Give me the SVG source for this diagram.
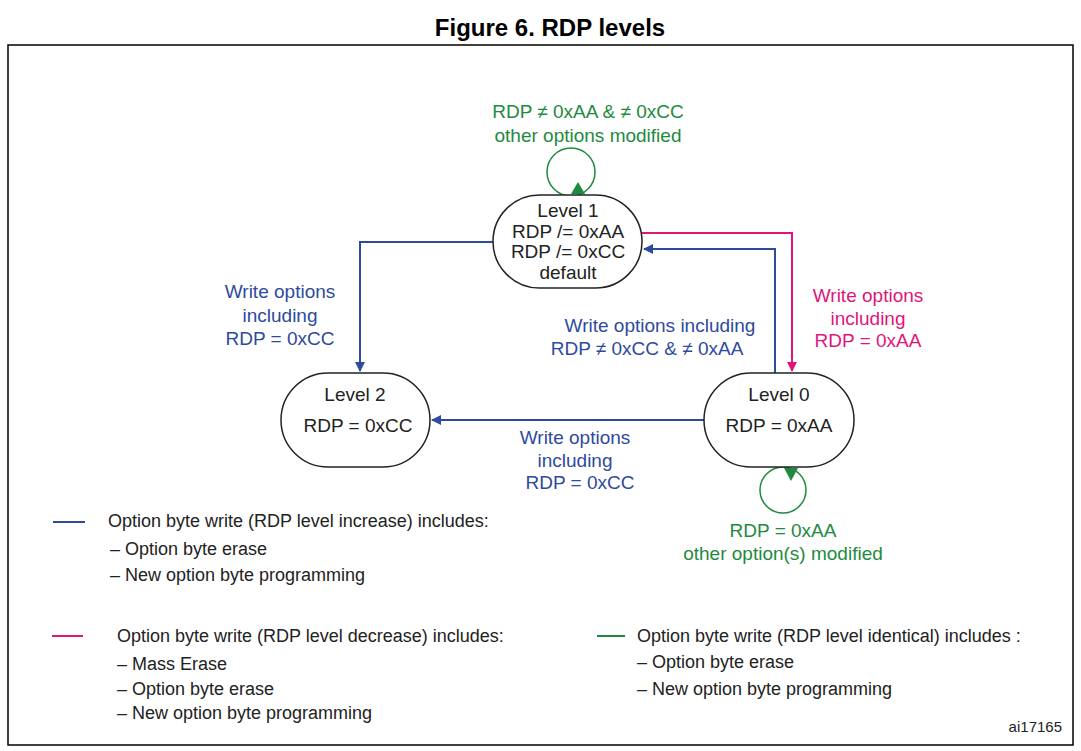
<svg xmlns="http://www.w3.org/2000/svg" width="1081" height="751" viewBox="0 0 1081 751">
<style>
text{font-family:"Liberation Sans",Arial,sans-serif;font-size:19px;}
.n{fill:#fff;stroke:#222;stroke-width:1.5}
.nt{fill:#222;text-anchor:middle}
.b{fill:#2e4a9e}.p{fill:#e0157a}.g{fill:#1e8a3e}
.c{text-anchor:middle}
.lb{stroke:#2e4a9e;stroke-width:2;fill:none}
.lp{stroke:#e0157a;stroke-width:2;fill:none}
.lg{stroke:#1e8a3e;stroke-width:1.5;fill:none}
.lt{fill:#222;font-size:18px}
</style>
<defs>
<marker id="ab" markerWidth="10" markerHeight="10" refX="9" refY="5" orient="auto" markerUnits="userSpaceOnUse"><path d="M0,0L10,5L0,10z" fill="#2e4a9e"/></marker>
<marker id="ap" markerWidth="10" markerHeight="10" refX="9" refY="5" orient="auto" markerUnits="userSpaceOnUse"><path d="M0,0L10,5L0,10z" fill="#e0157a"/></marker>
</defs>
<text x="550" y="36" text-anchor="middle" style="font-weight:bold;font-size:24px" fill="#000">Figure 6. RDP levels</text>
<rect x="8" y="45" width="1065" height="700" fill="none" stroke="#000" stroke-width="1.5"/>
<g id="connectors">
<path class="lb" d="M493,242H360V371" marker-end="url(#ab)"/>
<path class="lp" d="M642,233H792V371" marker-end="url(#ap)"/>
<path class="lb" d="M775,373V249H644" marker-end="url(#ab)"/>
<path class="lb" d="M704,420H432" marker-end="url(#ab)"/>
<circle class="lg" cx="571" cy="172" r="24"/>
<path d="M571,194L578,182L585,194z" fill="#1e8a3e"/>
<circle class="lg" cx="783" cy="490" r="23"/>
<path d="M784,468L798,468L791,481z" fill="#1e8a3e"/>
</g>
<g id="level1"><rect class="n" x="493" y="195" width="149" height="93" rx="46.5"/>
<text class="nt" x="568" y="217">Level 1</text><text class="nt" x="568" y="238">RDP /= 0xAA</text><text class="nt" x="568" y="258">RDP /= 0xCC</text><text class="nt" x="568" y="279">default</text></g>
<g id="level2"><rect class="n" x="281" y="373" width="149" height="94" rx="47"/>
<text class="nt" x="355" y="401">Level 2</text><text class="nt" x="358" y="432">RDP = 0xCC</text></g>
<g id="level0"><rect class="n" x="704" y="373" width="150" height="94" rx="47"/>
<text class="nt" x="779" y="401">Level 0</text><text class="nt" x="779" y="432">RDP = 0xAA</text></g>
<g id="labels">
<text class="g c" x="588" y="118">RDP ≠ 0xAA &amp; ≠ 0xCC</text>
<text class="g c" x="588" y="142">other options modified</text>
<text class="b c" x="280" y="298">Write options</text>
<text class="b c" x="280" y="322">including</text>
<text class="b c" x="280" y="345">RDP = 0xCC</text>
<text class="b c" x="660" y="332">Write options including</text>
<text class="b c" x="647" y="355">RDP ≠ 0xCC &amp; ≠ 0xAA</text>
<text class="p c" x="868" y="302">Write options</text>
<text class="p c" x="868" y="325">including</text>
<text class="p c" x="868" y="347">RDP = 0xAA</text>
<text class="b c" x="575" y="444">Write options</text>
<text class="b c" x="575" y="467">including</text>
<text class="b c" x="580" y="489">RDP = 0xCC</text>
<text class="g c" x="783" y="537">RDP = 0xAA</text>
<text class="g c" x="783" y="560">other option(s) modified</text>
</g>
<g id="legend">
<path class="lb" d="M53,522H85"/>
<text class="lt" x="108" y="527">Option byte write (RDP level increase) includes:</text>
<text class="lt" x="110" y="555">– Option byte erase</text>
<text class="lt" x="110" y="581">– New option byte programming</text>
<path class="lp" d="M52,636H83"/>
<text class="lt" x="117" y="642">Option byte write (RDP level decrease) includes:</text>
<text class="lt" x="117" y="670">– Mass Erase</text>
<text class="lt" x="117" y="695">– Option byte erase</text>
<text class="lt" x="117" y="719">– New option byte programming</text>
<path class="lg" style="stroke-width:2" d="M597,636H625"/>
<text class="lt" x="637" y="642">Option byte write (RDP level identical) includes :</text>
<text class="lt" x="637" y="668">– Option byte erase</text>
<text class="lt" x="637" y="695">– New option byte programming</text>
<text class="lt" x="1062" y="732" text-anchor="end" style="font-size:15px">ai17165</text>
</g>
</svg>
